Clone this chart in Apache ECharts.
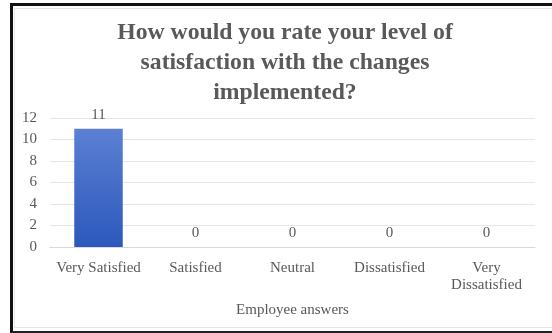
<!DOCTYPE html>
<html>
<head>
<meta charset="utf-8">
<script src="https://cdn.jsdelivr.net/npm/echarts@6/dist/echarts.min.js"></script>
<style>
  html, body { margin: 0; padding: 0; background: #fff; }
  #frame {
    position: absolute; left: 10px; top: 3px; width: 560px; height: 330px;
    border-left: 3px solid #111; border-top: 3px solid #111; border-bottom: 2px solid #222;
    box-sizing: border-box;
  }
  #inner {
    position: absolute; left: 14px; top: 8px; width: 540px; height: 320px;
    border: 1px solid #e6e6e6; box-sizing: border-box;
  }
  #chart { position: absolute; left: 0; top: 0; width: 552px; height: 333px; }
</style>
</head>
<body>
<div id="frame"></div>
<div id="inner"></div>
<div id="chart"></div>
<script>
const categories = ['Very Satisfied', 'Satisfied', 'Neutral', 'Dissatisfied', 'Very\nDissatisfied'];
const answerCounts = [11, 0, 0, 0, 0];
const yTicks = { min: 0, max: 12, step: 2 };

const FONT = '"Liberation Serif", "Times New Roman", serif';
const TEXT = '#595959';

const chart = echarts.init(document.getElementById('chart'), null, { renderer: 'canvas' });
chart.setOption({
  backgroundColor: 'transparent',
  animation: false,
  title: {
    text: 'How would you rate your level of\nsatisfaction with the changes\nimplemented?',
    left: 285, textAlign: 'center', top: 18,
    padding: [0, 0, 0, 0],
    textStyle: { fontFamily: FONT, fontWeight: 'bold', fontSize: 23.7, lineHeight: 30, color: TEXT }
  },
  grid: { left: 50, right: 17, top: 118, bottom: 86, containLabel: false },
  xAxis: {
    type: 'category',
    data: categories,
    name: 'Employee answers',
    nameLocation: 'middle',
    nameGap: 56,
    nameTextStyle: { fontFamily: FONT, fontSize: 15, color: TEXT },
    axisLine: { show: true, lineStyle: { color: '#d9d9d9', width: 1 } },
    axisTick: { show: false },
    axisLabel: { fontFamily: FONT, fontSize: 15, color: TEXT, margin: 13, lineHeight: 17, interval: 0 }
  },
  yAxis: {
    type: 'value',
    min: yTicks.min, max: yTicks.max, interval: yTicks.step,
    axisLine: { show: false },
    axisTick: { show: false },
    axisLabel: { fontFamily: FONT, fontSize: 15, color: TEXT, margin: 13 },
    splitLine: { lineStyle: { color: '#e6e6e6', width: 1 } }
  },
  series: [{
    type: 'bar',
    data: answerCounts,
    barWidth: '50%',
    itemStyle: {
      color: new echarts.graphic.LinearGradient(0, 0, 0, 1, [
        { offset: 0, color: '#5b80d3' },
        { offset: 1, color: '#2c58bd' }
      ])
    },
    label: {
      show: true, position: 'top', distance: 6,
      fontFamily: FONT, fontSize: 15, color: TEXT
    }
  }]
});
</script>
</body>
</html>
